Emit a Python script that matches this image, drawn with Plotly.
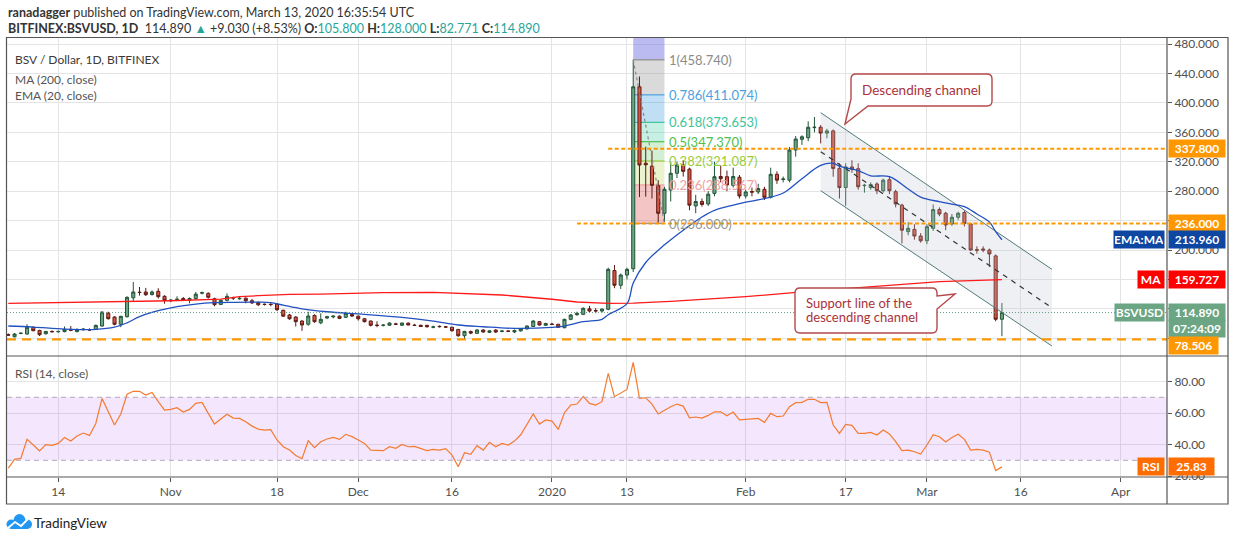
import pandas as pd
import plotly.graph_objects as go
from plotly.subplots import make_subplots

FONT = "Lato, Open Sans, sans-serif"

# ---- daily candles BITFINEX:BSVUSD, Oct 6 2019 .. Mar 13 2020
dates = pd.date_range('2019-10-06', '2020-03-13', freq='D')

opens = [
    # Oct 6-31
    85, 82, 86.5, 85.7, 94.8, 90.6, 86, 89.3, 88.8, 89, 92, 89, 91.5, 91.8, 92.1, 96.6, 114, 108.8, 99, 109.3,
    135, 142.6, 142.9, 139.5, 143.8, 137,
    # Nov
    131, 132.2, 134, 131.6, 134, 141.3, 141, 133.7, 126, 131.5, 135.3, 133.6, 134.5, 131, 128.5, 126.3, 126.2,
    126.5, 118, 111.6, 108.8, 103.4, 99, 111, 101, 107.5, 109, 110, 108.4, 112.2,
    # Dec
    110, 106.5, 103.4, 97.8, 97.5, 97.6, 99.5, 97.6, 100.5, 97.8, 97.6, 97.6, 95, 96.2, 95.5, 95, 92, 83.4, 89,
    86.7, 91.2, 88, 91, 89.3, 89.8, 88.5, 90, 92.6, 96, 102.5, 97.6,
    # Jan
    99.2, 99, 94.3, 105.7, 112, 112.5, 120, 117.6, 117, 119.4, 172, 152, 166, 174.5, 422, 318, 314, 287.5, 250,
    281.6, 304.4, 315.6, 310, 260, 266, 262.6, 277, 300, 299.7, 288, 299,
    # Feb
    273.5, 279.5, 279, 282.6, 271.7, 303, 296, 295, 336, 350.6, 352.7, 366.5, 367, 359, 362, 311, 285, 313,
    310.6, 287.5, 285, 289.8, 280.7, 295.6, 279.3, 261, 225, 228, 219,
    # Mar
    212.6, 229.5, 255, 250, 235.4, 244.5, 251, 235.4, 200.5, 201.4, 200, 192, 105.8,
]
highs = [
    86.5, 87, 88, 99, 96, 91.5, 89.8, 90.5, 90.5, 96, 96.6, 93.5, 94, 93.5, 98.5, 116.5, 116, 110, 110.5, 137,
    156.5, 149.7, 148.5, 145, 148, 138.5,
    133, 137, 136, 135.5, 143, 143.5, 142.5, 135, 132.5, 141, 136.5, 136, 135.5, 133.5, 130, 127, 127.5, 127,
    118.8, 113, 110, 104.5, 116, 112.5, 113.9, 110.5, 111, 111, 116, 113,
    111, 107.5, 104, 103, 99, 101.5, 101, 101, 101.5, 99.5, 98.5, 98, 97, 97.3, 96.5, 95.5, 92.5, 90, 90.5,
    92.5, 92, 91, 92.5, 90.5, 90.5, 92, 93.5, 97.5, 104.5, 103.5, 101,
    101, 99.5, 106.5, 113, 116, 122, 124, 121, 120.5, 176, 179.6, 168, 176, 458.74, 436, 340.5, 335, 295, 286,
    320, 320, 322, 312, 275, 270, 280, 320, 315, 308, 312, 302,
    282, 285, 290, 286, 312, 307, 300, 340, 355, 356, 375, 381, 370, 365, 364, 318, 318, 322, 318, 290, 292,
    292, 297, 300, 282, 263, 238, 235, 223,
    235, 262, 258, 252, 249, 252, 254, 237, 205, 205, 202, 194, 128,
]
lows = [
    83, 81, 85.5, 85, 89.5, 83, 85, 88, 87.5, 88, 89.5, 88, 90.5, 90, 91.5, 95.5, 105.5, 97.5, 95, 108,
    130, 138, 137.5, 138, 134, 127,
    129, 131, 130.5, 127.5, 132.5, 139.5, 134, 123.5, 125, 130, 132, 132.5, 127.5, 126.5, 124, 124.5, 123.5,
    117, 109, 105, 96, 90, 97, 101, 99, 106, 107, 106, 107.5, 109,
    104, 101.5, 96, 95, 96, 97, 98, 97, 97.5, 96.5, 95.5, 94.5, 93.5, 94.5, 94, 89, 82, 77.6, 85.5, 86, 87.5,
    87, 87, 88, 88.5, 87, 89, 92, 95.5, 97, 96.5,
    98, 94, 93.5, 104.5, 110.5, 111.5, 115.5, 114, 115, 118, 148, 147, 160, 170, 272, 272.5, 270, 236, 238,
    266, 298, 300, 254, 250, 259, 260, 273, 292, 280, 285, 270,
    270, 273, 276, 268, 270, 290, 292, 292, 327, 343, 348, 360, 345, 352, 299.7, 270, 260, 305, 282, 278, 282,
    276, 278, 276, 258, 209, 220, 214, 210,
    208, 226, 246, 227, 233, 241, 232, 199, 195, 197, 177, 103, 82.771,
]
closes = [
    84.2, 85.7, 86.8, 94.8, 90.2, 84.8, 89.3, 88.8, 89.2, 92, 90.8, 92, 92.3, 91.2, 97.5, 115.6, 106.5, 99,
    109.8, 135.6, 142.9, 142.2, 139.2, 142.9, 136.5, 131.5,
    131.8, 133, 131.6, 134, 140, 142, 135.7, 125.6, 131.5, 137, 134.7, 134.2, 131, 128, 125.5, 125.9, 125.8,
    118.8, 110, 106.5, 102.5, 98, 110.2, 102.5, 105.7, 109.3, 110, 107, 113.9, 110.2,
    106.5, 102.5, 97.6, 97.4, 97.8, 100.7, 99, 100.7, 98, 97.4, 96, 95.6, 95.3, 95.8, 95.2, 90.2, 83.4, 89.3,
    87, 91.2, 88.5, 90, 88.5, 89.8, 89.5, 90.5, 92.6, 96.6, 103.4, 98, 100,
    98.8, 95, 105.7, 111.6, 113.9, 120.7, 117, 117.2, 119.6, 173.7, 152, 166, 173.7, 422, 315.6, 316, 288, 250,
    282.6, 304.4, 315.6, 307, 261, 266, 262, 276, 299.7, 297, 288.4, 300, 273.5,
    279, 278.8, 283.6, 271.7, 303, 295, 296.6, 336, 351, 354, 367, 367, 359, 362, 311, 285, 313, 310, 286, 288,
    289, 280.7, 295, 280.7, 262.6, 227, 229.5, 219, 212.6,
    231.7, 255, 249, 234, 244.5, 250, 236, 200, 199.8, 200, 194.6, 105.8, 114.89,
]

# RSI (14, close), one value per day
rsi = [
    25.0, 30.6, 31.2, 43.3, 39.7, 35.9, 39.9, 39.5, 40.7, 44.5, 42.2, 45.4, 47.3, 45.8, 53.4, 69.3, 60.8, 52.4,
    59.4, 71.9, 73.8, 73.8, 71.4, 73.1, 67.2, 61.9,
    62.3, 63.4, 60.6, 62.3, 66.1, 66.8, 59.8, 53.0, 56.2, 59.2, 56.8, 56.6, 54.5, 51.7, 49.8, 49.2, 49.4, 42.9,
    38.6, 36.5, 33.1, 31.0, 42.4, 38.0, 41.8, 43.5, 44.5, 43.3, 46.5, 45.0,
    42.9, 40.7, 36.5, 36.5, 36.1, 38.6, 37.6, 40.1, 38.6, 38.8, 37.6, 36.1, 36.9, 36.5, 37.4, 33.3, 25.9, 34.8,
    33.8, 39.3, 36.5, 41.4, 38.6, 40.7, 39.7, 42.2, 46.2, 52.4, 59.4, 53.0, 55.6,
    54.9, 49.6, 60.2, 65.1, 65.7, 70.6, 66.1, 65.1, 67.2, 85.2, 70.4, 72.9, 75.0, 92.2, 69.3, 69.7, 65.7, 59.4,
    61.9, 64.0, 65.7, 64.4, 57.0, 57.5, 56.8, 58.5, 60.8, 60.8, 58.3, 60.6, 55.6,
    56.0, 56.0, 56.6, 54.1, 59.8, 57.7, 58.1, 64.0, 66.6, 66.8, 68.7, 68.7, 66.6, 66.8, 52.4, 47.1, 52.8, 52.2,
    47.1, 47.1, 47.7, 46.0, 49.2, 46.7, 41.8, 36.1, 36.5, 35.4, 34.0,
    39.7, 46.2, 45.0, 41.6, 44.5, 46.5, 43.3, 36.5, 36.9, 36.5, 35.2, 23.5, 25.83,
]

# moving averages, read at points along the lines
ma_dates = ['2019-10-06', '2019-10-16', '2019-10-27', '2019-11-01', '2019-11-09', '2019-11-12', '2019-11-15',
            '2019-11-20', '2019-11-25', '2019-12-05', '2019-12-13', '2019-12-17', '2019-12-24', '2020-01-01',
            '2020-01-05', '2020-01-10', '2020-01-14', '2020-01-20', '2020-02-01', '2020-02-10', '2020-02-21',
            '2020-03-03', '2020-03-13']
ma_vals = [127.5, 128.8, 130.6, 131, 133.3, 136.5, 137.9, 139.7, 139.9, 142, 142.4, 141, 138.8, 133,
           129.3, 127.5, 127.8, 130, 136.5, 143, 150, 157, 159.727]

ema_dates = ['2019-10-06', '2019-10-10', '2019-10-15', '2019-10-20', '2019-10-23', '2019-10-25', '2019-10-27',
             '2019-10-30', '2019-11-02', '2019-11-05', '2019-11-08', '2019-11-11', '2019-11-15', '2019-11-17',
             '2019-11-19', '2019-11-22', '2019-11-26', '2019-12-02', '2019-12-08', '2019-12-13', '2019-12-17',
             '2019-12-21', '2019-12-26', '2020-01-01', '2020-01-03', '2020-01-06', '2020-01-09', '2020-01-10',
             '2020-01-13', '2020-01-14', '2020-01-16', '2020-01-19', '2020-01-22', '2020-01-25', '2020-01-27',
             '2020-01-30', '2020-02-01', '2020-02-04', '2020-02-07', '2020-02-10', '2020-02-13', '2020-02-15',
             '2020-02-16', '2020-02-19', '2020-02-21', '2020-02-24', '2020-02-27', '2020-02-29', '2020-03-03',
             '2020-03-06', '2020-03-07', '2020-03-09', '2020-03-11', '2020-03-12', '2020-03-13']
ema_vals = [96.6, 95.2, 92.5, 92, 95, 101, 109.3, 117.4, 123, 126.5, 128.3, 128.8, 129, 128.5, 125, 120,
            116, 112.5, 108.4, 103.4, 98, 95.6, 93.4, 94.8, 96.6, 102.5, 105.7, 112, 127, 155, 183, 207, 227,
            245, 254, 261, 265, 270, 277.5, 297, 315, 318, 314, 308, 301, 299.7, 283, 272, 265.7, 261, 259,
            249, 238, 225, 213.96]

# drawings
fib_x = ['2020-01-14', '2020-01-19']
fib_levels = [458.74, 411.074, 373.653, 347.37, 321.087, 288.567, 236.0]
fib_names = ['1', '0.786', '0.618', '0.5', '0.382', '0.236', '0']
channel_x = ['2020-02-13', '2020-03-21']
channel_upper = [386.8, 173.7]
channel_lower = [280.7, 69.4]
channel_mid = [333.7, 121.5]
resist_1, resist_2, support_1 = 337.8, 236.0, 78.506
last_close, ema_last, ma_last, rsi_last = 114.89, 213.96, 159.727, 25.83

x_start, x_end = '2019-10-05 19:00', '2020-04-08 10:00'
tick_dates = ['2019-10-14', '2019-11-01', '2019-11-18', '2019-12-01', '2019-12-16', '2020-01-01',
              '2020-01-13', '2020-02-01', '2020-02-17', '2020-03-01', '2020-03-16', '2020-04-01']
tick_text = ['14', 'Nov', '18', 'Dec', '16', '2020', '13', 'Feb', '17', 'Mar', '16', 'Apr']
price_ticks = [80, 120, 160, 200, 240, 280, 320, 360, 400, 440, 480]
# labels hidden behind the price tags on the right are left blank
price_tick_text = ['', '', '', '200.000', '', '280.000', '320.000', '360.000', '400.000', '440.000', '480.000']

GREEN, RED, ORANGE = '#6ba583', '#d75442', '#ff9800'

fig = make_subplots(rows=2, cols=1, shared_xaxes=True, vertical_spacing=0,
                    row_heights=[0.7244, 0.2756])

# channel fill + lines
fig.add_trace(go.Scatter(x=channel_x, y=channel_lower, mode='lines',
                         line=dict(color='#4e7b7b', width=1), hoverinfo='skip'), row=1, col=1)
fig.add_trace(go.Scatter(x=channel_x, y=channel_upper, mode='lines', fill='tonexty',
                         fillcolor='rgba(190,196,208,0.25)',
                         line=dict(color='#4e7b7b', width=1), hoverinfo='skip'), row=1, col=1)

fig.add_trace(go.Candlestick(
    x=dates, open=opens, high=highs, low=lows, close=closes, name='BSVUSD',
    increasing=dict(line=dict(color='#225437', width=1), fillcolor=GREEN),
    decreasing=dict(line=dict(color='#5b1a13', width=1), fillcolor=RED),
    whiskerwidth=0), row=1, col=1)

fig.add_trace(go.Scatter(x=channel_x, y=channel_mid, mode='lines',
                         line=dict(color='#333333', width=1.2, dash='5px,5px'), hoverinfo='skip'),
              row=1, col=1)
fig.add_trace(go.Scatter(x=ma_dates, y=ma_vals, mode='lines', name='MA',
                         line=dict(color='#ff1a1a', width=1.3)), row=1, col=1)
fig.add_trace(go.Scatter(x=ema_dates, y=ema_vals, mode='lines', name='EMA', line_shape='spline',
                         line=dict(color='#2150c0', width=1.3)), row=1, col=1)

fig.add_trace(go.Scatter(x=dates, y=rsi, mode='lines', name='RSI',
                         line=dict(color='#f47b2f', width=1.2)), row=2, col=1)


def PX(px):
    return (px - 7) / 1160


def PY(py):
    return (477 - py) / 439


def P(px, py):
    return f"{PX(px):.5f},{PY(py):.5f}"


shapes = []
# fibonacci zones
fib_fill = ['rgba(140,140,140,0.32)', 'rgba(30,140,220,0.28)', 'rgba(40,200,150,0.27)',
            'rgba(76,190,80,0.25)', 'rgba(170,205,60,0.25)', 'rgba(220,80,80,0.33)']
fib_line = ['#8c8c8c', '#4a9fe0', '#3cc49a', '#4cc04c', '#9bcc3d', '#f0a0a0', '#999999']
shapes.append(dict(type='rect', xref='x', yref='y', x0=fib_x[0], x1=fib_x[1], y0=fib_levels[0], y1=520,
                   fillcolor='rgba(120,120,230,0.5)', line_width=0, layer='between'))
for i in range(6):
    shapes.append(dict(type='rect', xref='x', yref='y', x0=fib_x[0], x1=fib_x[1],
                       y0=fib_levels[i + 1], y1=fib_levels[i], fillcolor=fib_fill[i], line_width=0,
                       layer='between'))
for i, lv in enumerate(fib_levels):
    shapes.append(dict(type='line', xref='x', yref='y', x0=fib_x[0], x1=fib_x[1], y0=lv, y1=lv,
                       line=dict(color=fib_line[i], width=1.2), layer='between'))
shapes.append(dict(type='line', xref='x', yref='y', x0=fib_x[0], x1=fib_x[1],
                   y0=fib_levels[0], y1=fib_levels[-1], line=dict(color='#888', width=1.2, dash='3px,3px')))

# horizontal levels
shapes.append(dict(type='line', xref='x', yref='y', x0='2020-01-10', x1=x_end, y0=resist_1, y1=resist_1,
                   line=dict(color=ORANGE, width=2, dash='4px,2.5px')))
shapes.append(dict(type='line', xref='x', yref='y', x0='2020-01-05', x1=x_end, y0=resist_2, y1=resist_2,
                   line=dict(color=ORANGE, width=2, dash='4px,2.5px')))
shapes.append(dict(type='line', xref='x', yref='y', x0=x_start, x1=x_end, y0=support_1, y1=support_1,
                   line=dict(color=ORANGE, width=2.2, dash='9px,6px')))
shapes.append(dict(type='line', xref='x', yref='y', x0=x_start, x1=x_end, y0=last_close, y1=last_close,
                   line=dict(color='#5f9c7c', width=1, dash='1px,2px')))

# RSI band
shapes.append(dict(type='rect', xref='x2', yref='y2', x0=x_start, x1=x_end, y0=30, y1=70,
                   fillcolor='rgba(155,47,238,0.12)', line_width=0, layer='between'))
for lv in (30, 70):
    shapes.append(dict(type='line', xref='x2', yref='y2', x0=x_start, x1=x_end, y0=lv, y1=lv,
                       line=dict(color='#b3a8bb', width=1, dash='5px,4px')))

# frame
FR = '#555555'
shapes.append(dict(type='rect', xref='paper', yref='paper', x0=PX(6.5), x1=PX(1228), y0=PY(504), y1=PY(37.5),
                   line=dict(color=FR, width=1.2)))
for yy in (356, 477):
    shapes.append(dict(type='line', xref='paper', yref='paper', x0=PX(6.5), x1=PX(1228), y0=PY(yy), y1=PY(yy),
                       line=dict(color=FR, width=1.2)))
shapes.append(dict(type='line', xref='paper', yref='paper', x0=1, x1=1, y0=PY(504), y1=PY(37.5),
                   line=dict(color=FR, width=1.2)))

# callouts
box1 = ("M " + P(856, 74) + " L " + P(987, 74) + " Q " + P(992, 74) + " " + P(992, 79) +
        " L " + P(992, 101) + " Q " + P(992, 106) + " " + P(987, 106) + " L " + P(868, 106) +
        " L " + P(845, 124) + " L " + P(851, 99) + " L " + P(851, 79) + " Q " + P(851, 74) + " " +
        P(856, 74) + " Z")
box2 = ("M " + P(800, 288) + " L " + P(932, 288) + " Q " + P(937, 288) + " " + P(937, 293) +
        " L " + P(937, 296) + " L " + P(955, 294) + " L " + P(937, 309) + " L " + P(937, 328) +
        " Q " + P(937, 333) + " " + P(932, 333) + " L " + P(800, 333) + " Q " + P(795, 333) + " " +
        P(795, 328) + " L " + P(795, 293) + " Q " + P(795, 288) + " " + P(800, 288) + " Z")
for b in (box1, box2):
    shapes.append(dict(type='path', xref='paper', yref='paper', path=b, fillcolor='white',
                       line=dict(color='#b5484a', width=1.4)))

# TradingView logo
LOGO = '#2196f3'
shapes.append(dict(type='circle', xref='paper', yref='paper', x0=PX(13.5), x1=PX(25.5), y0=PY(527),
                   y1=PY(514), fillcolor=LOGO, line_width=0))
shapes.append(dict(type='circle', xref='paper', yref='paper', x0=PX(6.5), x1=PX(16), y0=PY(529),
                   y1=PY(519.5), fillcolor=LOGO, line_width=0))
shapes.append(dict(type='circle', xref='paper', yref='paper', x0=PX(22.5), x1=PX(32), y0=PY(529),
                   y1=PY(519.5), fillcolor=LOGO, line_width=0))
shapes.append(dict(type='rect', xref='paper', yref='paper', x0=PX(11), x1=PX(27.5), y0=PY(529),
                   y1=PY(522), fillcolor=LOGO, line_width=0))
shapes.append(dict(type='path', xref='paper', yref='paper',
                   path="M " + P(8, 528) + " L " + P(15, 522) + " L " + P(21, 526) + " L " + P(28, 519),
                   line=dict(color='white', width=1.8)))

ann = []


def txt(text, px, py, size=13, color='#333333', anchor='left'):
    ann.append(dict(text=text, xref='paper', yref='paper', x=PX(px), y=PY(py), xanchor=anchor,
                    yanchor='middle', showarrow=False, font=dict(family=FONT, size=size, color=color)))


TEAL = '#26a69a'
txt("<b>ranadagger</b> published on TradingView.com, March 13, 2020 16:35:54 UTC", 6, 12, 12.5)
txt("<b>BITFINEX:BSVUSD, 1D</b>  114.890 <span style='color:%s'>▲</span> +9.030 (+8.53%%) "
    "<b>O:</b><span style='color:%s'>105.800</span> <b>H:</b><span style='color:%s'>128.000</span> "
    "<b>L:</b><span style='color:%s'>82.771</span> <b>C:</b><span style='color:%s'>114.890</span>"
    % (TEAL, TEAL, TEAL, TEAL, TEAL), 6, 29, 12.5)
txt("BSV / Dollar, 1D, BITFINEX", 13, 60, 12, '#3a3a3a')
txt("MA (200, close)", 13, 79, 12, '#555555')
txt("EMA (20, close)", 13, 95, 12, '#555555')
txt("RSI (14, close)", 13, 373, 12, '#555555')
txt("TradingView", 32, 523, 13.5, '#222222')

CALL = '#a8323a'
txt("Descending channel", 921.5, 90, 13.5, CALL, 'center')
txt("Support line of the", 804, 303, 13, CALL)
txt("descending channel", 804, 317, 13, CALL)

# fib labels
for i, lv in enumerate(fib_levels):
    ann.append(dict(text=f"{fib_names[i]}({lv:.3f})", xref='x', yref='y', x='2020-01-19 10:00', y=lv,
                    xanchor='left', yanchor='middle', showarrow=False,
                    font=dict(family=FONT, size=13, color=fib_line[i])))


def axis_label(val, text, bg, yref='y', side='left', width=54):
    ann.append(dict(text=text, xref='paper', yref=yref, x=1, y=val,
                    xanchor=side, yanchor='middle', xshift=1 if side == 'left' else -2,
                    showarrow=False, bgcolor=bg, width=width, height=15, borderpad=1,
                    font=dict(family=FONT, size=12, color='white')))


axis_label(resist_1, f"<b>{resist_1:.3f}</b>", ORANGE)
axis_label(resist_2, f"<b>{resist_2:.3f}</b>", ORANGE)
axis_label(ema_last, f"<b>{ema_last:.3f}</b>", '#0d47a1')
axis_label(ema_last, "<b>EMA:MA</b>", '#0d47a1', side='right', width=48)
axis_label(ma_last, f"<b>{ma_last:.3f}</b>", '#ff0000')
axis_label(ma_last, "<b>MA</b>", '#ff0000', side='right', width=24)
axis_label(last_close, f"<b>{last_close:.3f}</b>", GREEN)
axis_label(last_close, "<b>BSVUSD</b>", GREEN, side='right', width=47)
axis_label(93.2, "<b>07:24:09</b>", GREEN)
axis_label(69.5, f"<b>{support_1:.3f}</b>", ORANGE, width=47)
axis_label(rsi_last, f"<b>{rsi_last:.2f}</b>", '#ff6d00', yref='y2', width=43)
axis_label(rsi_last, "<b>RSI</b>", '#ff6d00', yref='y2', side='right', width=24)

fig.update_layout(
    width=1234, height=541, paper_bgcolor='white', plot_bgcolor='white',
    margin=dict(l=7, r=67, t=38, b=64, autoexpand=False), showlegend=False,
    font=dict(family=FONT, size=12, color='#4f4f4f'),
    shapes=shapes, annotations=ann, hovermode='x',
)
fig.update_xaxes(range=[x_start, x_end], tickvals=tick_dates, ticktext=tick_text, showgrid=True,
                 gridcolor='#e4e4e4', gridwidth=1, zeroline=False, showline=False,
                 rangeslider_visible=False, automargin=False)
fig.update_xaxes(showticklabels=False, row=1, col=1)
fig.update_xaxes(ticks='outside', ticklen=4, tickcolor='#555', tickfont=dict(size=12, color='#4f4f4f'),
                 row=2, col=1)
fig.update_yaxes(side='right', showgrid=True, gridcolor='#e4e4e4', zeroline=False, showline=False,
                 ticks='outside', ticklen=4, tickcolor='#555', tickfont=dict(size=12, color='#4f4f4f'),
                 automargin=False)
fig.update_yaxes(range=[55.8, 488.4], tickvals=price_ticks, ticktext=price_tick_text, row=1, col=1)
fig.update_yaxes(range=[19.4, 96.2], tickvals=[20, 40, 60, 80], tickformat='.2f', row=2, col=1)

# page body has a default 8px margin; drop it so the figure sits at the window's corner
fig.write_html("out.html", config={'displayModeBar': False},
               post_script="document.body.style.margin='0';")
